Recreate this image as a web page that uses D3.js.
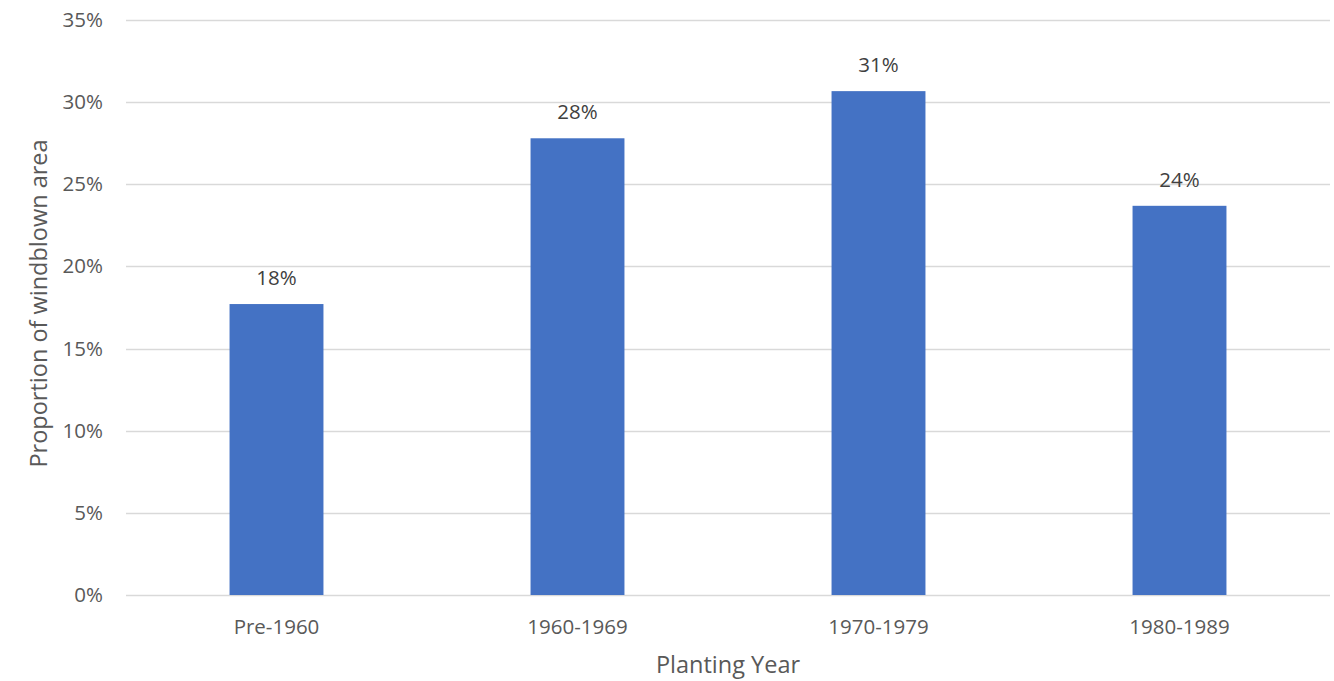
<!DOCTYPE html>
<html>
<head>
<meta charset="utf-8">
<script src="https://cdn.jsdelivr.net/npm/d3@7/dist/d3.min.js"></script>
<style>
  body { margin: 0; background: #fff; }
  svg { display: block; font-family: "Open Sans", sans-serif; }
</style>
</head>
<body>
<div id="chart"></div>
<script>
// data
const categories = ['Pre-1960', '1960-1969', '1970-1979', '1980-1989'];
const values = [0.1771, 0.278, 0.3067, 0.2369];
const yTicks = [0, 0.05, 0.10, 0.15, 0.20, 0.25, 0.30, 0.35];

const width = 1334;
const height = 681;
const margin = {
  top: 20, right: 4, bottom: 86, left: 126,
};
const innerW = width - margin.left - margin.right;
const innerH = height - margin.top - margin.bottom;

const svg = d3.select('#chart')
  .append('svg')
  .attr('width', width)
  .attr('height', height);

const g = svg.append('g')
  .attr('transform', `translate(${margin.left},${margin.top})`);

const x = d3.scaleBand()
  .domain(categories)
  .range([0, innerW])
  .paddingInner(0.688)
  .paddingOuter(0.344);

const y = d3.scaleLinear()
  .domain([0, 0.35])
  .range([innerH, 0]);

// gridlines
g.selectAll('.grid')
  .data(yTicks)
  .enter()
  .append('line')
  .attr('x1', 0)
  .attr('x2', innerW)
  .attr('y1', (d) => Math.round(y(d)) + 0.5)
  .attr('y2', (d) => Math.round(y(d)) + 0.5)
  .attr('stroke', '#d9d9d9')
  .attr('stroke-width', 1.5);

// y axis labels
const yAxis = g.append('g')
  .call(d3.axisLeft(y).tickValues(yTicks).tickFormat(d3.format('.0%')).tickSize(0).tickPadding(23));
yAxis.select('.domain').remove();
yAxis.selectAll('text')
  .attr('fill', '#595959')
  .style('font-size', '20.5px')
  .style('font-family', '"Open Sans", sans-serif');

// x axis labels
const xAxis = g.append('g')
  .attr('transform', `translate(0,${innerH})`)
  .call(d3.axisBottom(x).tickSize(0).tickPadding(24));
xAxis.select('.domain').remove();
xAxis.selectAll('text')
  .attr('fill', '#595959')
  .style('font-size', '20.5px')
  .style('font-family', '"Open Sans", sans-serif');

// bars
g.selectAll('.bar')
  .data(values)
  .enter()
  .append('rect')
  .attr('x', (d, i) => x(categories[i]))
  .attr('y', (d) => y(d))
  .attr('width', x.bandwidth())
  .attr('height', (d) => innerH - y(d))
  .attr('fill', '#4472c4');

// data labels
g.selectAll('.label')
  .data(values)
  .enter()
  .append('text')
  .attr('x', (d, i) => x(categories[i]) + x.bandwidth() / 2)
  .attr('y', (d) => y(d) - 19)
  .attr('text-anchor', 'middle')
  .attr('fill', '#404040')
  .style('font-size', '20.5px')
  .text((d) => d3.format('.0%')(d));

// axis titles
svg.append('text')
  .attr('transform', `translate(47,${margin.top + innerH / 2 - 4}) rotate(-90)`)
  .attr('text-anchor', 'middle')
  .attr('fill', '#595959')
  .style('font-size', '23.5px')
  .text('Proportion of windblown area');

svg.append('text')
  .attr('x', margin.left + innerW / 2)
  .attr('y', 673)
  .attr('text-anchor', 'middle')
  .attr('fill', '#595959')
  .style('font-size', '23.5px')
  .text('Planting Year');
</script>
</body>
</html>
